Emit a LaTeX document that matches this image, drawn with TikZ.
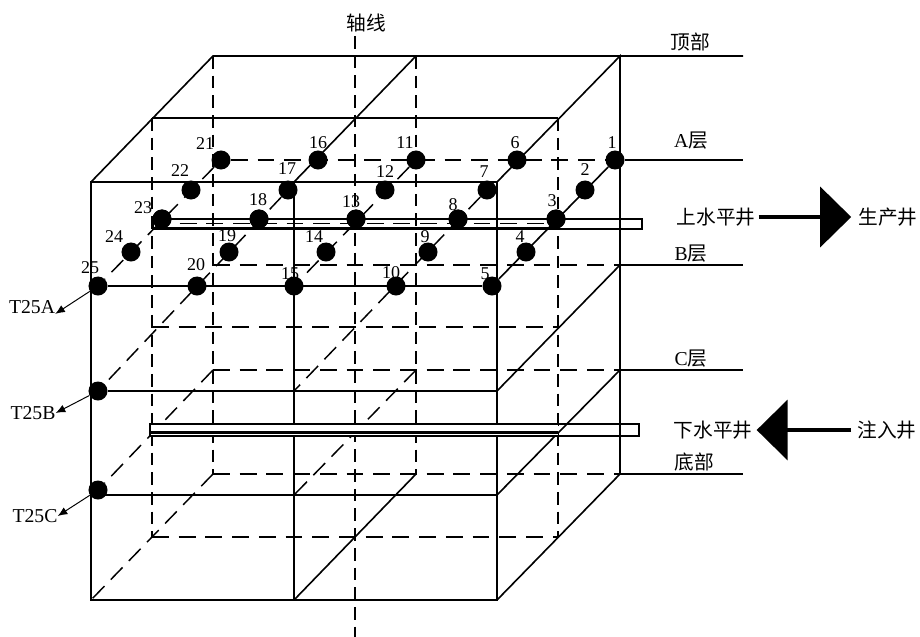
\documentclass[tikz,border=0pt]{standalone}
\usepackage{fontspec}
\setmainfont{Liberation Serif}
\newfontfamily\cjkfont{Noto Sans CJK SC}
\usetikzlibrary{arrows.meta}

\begin{document}
\begin{tikzpicture}[x=0.025cm,y=-0.025cm,
  frame/.style={draw=black,line width=1.15pt},
  hiddenh/.style={draw=black,line width=1.35pt,dash pattern=on 12pt off 7pt},
  hiddenv/.style={draw=black,line width=1.15pt,dash pattern=on 9pt off 5pt},
  hiddend/.style={draw=black,line width=1.05pt,dash pattern=on 12pt off 6.5pt},
  probe/.style={circle,fill=black,inner sep=0pt,minimum size=0.475cm},
  numlabel/.style={inner sep=0pt,font=\fontsize{12.8}{14}\selectfont},
  tlabel/.style={inner sep=0pt,font=\fontsize{14}{16}\selectfont},
  layerlabel/.style={inner sep=0pt,font=\fontsize{14}{16}\selectfont},
  leadarrow/.style={-{Latex[length=2.4mm,width=2mm]},draw=black,line width=0.7pt},
  wellarrow/.style={-{Triangle[length=0.775cm,width=1.5cm]},draw=black,line width=2.8pt}
]
\path[use as bounding box] (0,0) rectangle (920,637);

% Box corners
\coordinate (ftl) at (91,182);
\coordinate (ftm) at (294,182);
\coordinate (ftr) at (497,182);
\coordinate (fbl) at (91,600);
\coordinate (fbm) at (294,600);
\coordinate (fbr) at (497,600);
\coordinate (btl) at (213,56);
\coordinate (btm) at (416,56);
\coordinate (btr) at (620,56);
\coordinate (bbl) at (213,474);
\coordinate (bbm) at (416,474);
\coordinate (bbr) at (620,474);
\coordinate (mtl) at (152,118);
\coordinate (mtr) at (558,118);
\coordinate (mbl) at (152,537);
\coordinate (mbr) at (558,537);
\coordinate (axistop) at (355,36);
\coordinate (axisbot) at (355,637);

% Layer ends
\coordinate (topend) at (743,56);
\coordinate (aend) at (743,160);
\coordinate (bend) at (743,265);
\coordinate (cend) at (743,370);
\coordinate (botend) at (743,474);
\coordinate (bback) at (213,265);
\coordinate (bright) at (620,265);
\coordinate (cback) at (213,370);
\coordinate (cmid) at (416,370);
\coordinate (cright) at (620,370);
\coordinate (bfront) at (497,391);
\coordinate (cfront) at (497,495);
\coordinate (bfrontm) at (294,391);
\coordinate (cfrontm) at (294,495);
\coordinate (cfrontl) at (98,495);

% Hidden edges
\foreach \a/\b in {btl/bbl,btm/bbm,mtl/mbl,mtr/mbr,axistop/axisbot}
  \draw[hiddenv] (\a) -- (\b);
\foreach \a/\b in {bback/bright,cback/cright,bbl/bbr,mbl/mbr}
  \draw[hiddenh] (\a) -- (\b);
\draw[hiddenh] (152,327) -- (558,327);

% Visible edges
\draw[frame] (ftl) -- (fbl) -- (fbr) -- (ftr) -- cycle;
\draw[frame] (ftm) -- (fbm);
\draw[frame] (ftl) -- (btl) -- (topend);
\draw[frame] (ftm) -- (btm);
\draw[frame] (ftr) -- (btr) -- (bbr) -- (fbr);
\draw[frame] (mtl) -- (mtr);
\draw[frame] (bbm) -- (fbm);
\draw[frame] (bbr) -- (botend);
\draw[frame] (bright) -- (bend);
\draw[frame] (cright) -- (cend);
\draw[frame] (bright) -- (bfront);
\draw[frame] (cright) -- (cfront);
\draw[frame] (bfrontm) -- (bfront);
\draw[frame] (cfrontl) -- (cfront);

% Measuring points
\foreach \n/\x/\y/\lx/\ly in {
  1/615/160/612/143,2/585/190/585/170,3/556/219/552/201,4/526/252/520/237,5/492/286/485/274,
  6/517/160/515/143,7/487/190/484/172,8/458/219/453/205,9/428/252/425/237,10/396/286/391/273,
  11/416/160/405/143,12/385/190/385/172,13/356/219/351/202,14/326/252/314/237,15/294/286/290/274,
  16/318/160/318/143,17/288/190/287/169,18/259/219/258/200,19/229/252/227/236,20/197/286/196/265,
  21/221/160/205/144,22/191/190/180/171,23/162/219/143/208,24/131/252/114/237,25/98/286/90/268}
{
  \node[probe] (p\n) at (\x,\y) {};
  \node[numlabel] (n\n) at (\lx,\ly) {\n};
}
\node[probe] (pb) at (98,391) {};
\node[probe] (pc) at (98,490) {};

% Rows and columns of points
\draw[hiddenh] (p21) -- (p1);
\draw[frame] (p1) -- (aend);
\draw[frame] (p1) -- (p5);
\draw[frame] (p25) -- (p5);
\draw[frame] (pb) -- (bfrontm);
\draw[hiddend] (p21) -- (p25);
\draw[hiddend] (p17) -- (pb);
\draw[hiddend] (p11) -- (p15);
\draw[hiddend] (p7) -- (bfrontm);
\draw[hiddend] (cback) -- (pc);
\draw[hiddend] (cmid) -- (cfrontm);
\draw[hiddend] (bbl) -- (fbl);

% Upper well
\draw[frame] (153,219) rectangle (642,229);
\draw[hiddenh,line width=0.9pt] (153,223.5) -- (558,223.5);
\draw[draw=black,line width=1.5pt] (153,228.5) -- (558,228.5);

% Lower well
\fill[white] (150,424) rectangle (558,436);
\draw[frame] (150,424) rectangle (639,436);
\draw[draw=black,line width=1.8pt] (150,432.5) -- (558,432.5);

% Points drawn again over the well lines
\foreach \n/\x/\y in {3/556/219,8/458/219,13/356/219,18/259/219,23/162/219}
  \fill (\x,\y) circle (0.2375cm);

% Layer labels
\node[layerlabel] (axislabel) at (366,23) {\cjkfont 轴线};
\node[layerlabel] (toplabel) at (690,42) {\cjkfont 顶部};
\node[layerlabel] (alabel) at (691,141) {A\cjkfont 层};
\node[layerlabel] (blabel) at (691,254) {B\cjkfont 层};
\node[layerlabel] (clabel) at (691,359) {C\cjkfont 层};
\node[layerlabel] (botlabel) at (694,462) {\cjkfont 底部};

% Wells
\node[layerlabel] (upwell) at (716,217) {\cjkfont 上水平井};
\node[layerlabel] (prodwell) at (888,217) {\cjkfont 生产井};
\node[layerlabel] (lowwell) at (713,430) {\cjkfont 下水平井};
\node[layerlabel] (injwell) at (887,430) {\cjkfont 注入井};
\draw[wellarrow,shorten <=0.075cm,shorten >=0.175cm] (upwell.east) -- (prodwell.west);
\draw[wellarrow,shorten <=0.15cm,shorten >=0.1cm] (injwell.west) -- (lowwell.east);

% Point leaders
\node[tlabel] (ta) at (32,307) {T25A};
\node[tlabel] (tb) at (33,413) {T25B};
\node[tlabel] (tc) at (35,516) {T25C};
\draw[leadarrow] (p25) -- (ta.south east);
\draw[leadarrow] (pb) -- (tb.east);
\draw[leadarrow] (pc) -- (tc.east);

\end{tikzpicture}
\end{document}
